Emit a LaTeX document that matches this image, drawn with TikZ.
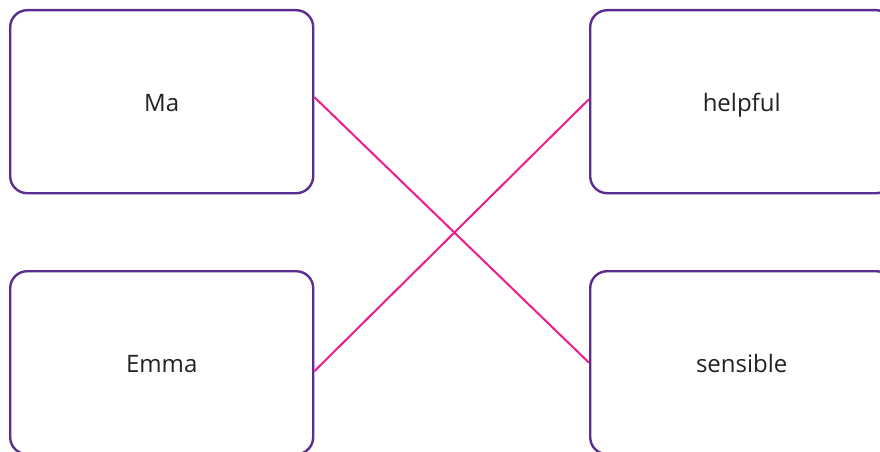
\documentclass[tikz,border=0pt]{standalone}
\usepackage{fontspec}
\setmainfont{Open Sans}
\definecolor{boxpurple}{HTML}{5B2D90}
\definecolor{linepink}{HTML}{EC1C8C}
\definecolor{txt}{HTML}{222222}
\begin{document}
\begin{tikzpicture}[x=1pt,y=-1pt,
  card/.style={draw=boxpurple,line width=2.4pt,rounded corners=17pt,minimum width=303pt,minimum height=183pt,inner sep=0pt,anchor=north west,font=\fontsize{24}{28}\selectfont,text=txt,text height=22pt,text depth=3pt},
  link/.style={draw=linepink,line width=2pt}]
\useasboundingbox (0,0) rectangle (880,452);
\node[card] (ma) at (9,9) {Ma};
\node[card] (emma) at (9,270) {Emma};
\node[card] (helpful) at (589,9) {helpful};
\node[card] (sensible) at (589,270) {sensible};
\draw[link] ([yshift=4.5pt]ma.east) -- ([yshift=0pt]sensible.west);
\draw[link] ([yshift=-8.5pt]emma.east) -- ([yshift=2.5pt]helpful.west);
\end{tikzpicture}
\end{document}
